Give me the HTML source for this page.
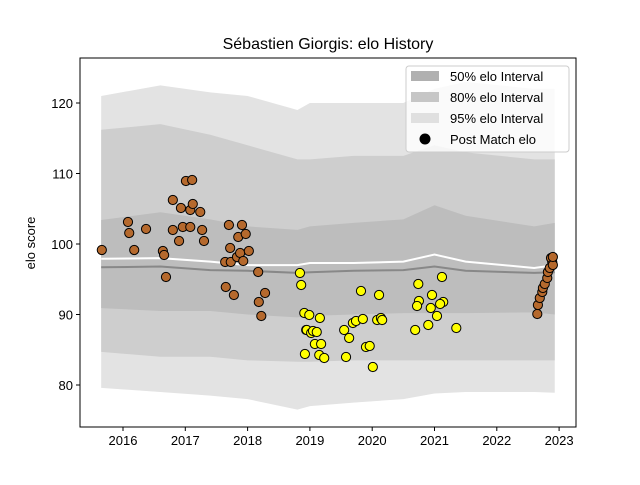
<!DOCTYPE html>
<html><head><meta charset="utf-8"><style>
body{margin:0;background:#fff;}
svg{font-family:"Liberation Sans","DejaVu Sans",sans-serif;}
</style></head><body>
<svg id="chart" width="640" height="480">
<text x="328" y="49" font-size="16" text-anchor="middle">Sébastien Giorgis: elo History</text>
<text transform="translate(35,243) rotate(-90)" font-size="13" text-anchor="middle">elo score</text>
<g id="plot"></g>
</svg>
<script>
const knotYears=[2015.65,2016.6,2017.4,2018.0,2018.8,2019.0,2019.7,2020.5,2021.0,2021.5,2022.6,2022.93];
const top95=[121,122.5,121.5,121,119,120,120,120,122,123,122,122];
const top80=[116.2,117,115.5,114,112,112,112.5,112.5,114,113,112,112];
const top50=[103.4,104.5,103.5,102.5,102,102.5,103,103.5,105.5,104,102.5,103];
const meanLine=[96.7,96.8,96.3,96.2,95.9,96,96.2,96.3,96.8,96.2,95.9,96];
const bot50=[90.9,90.5,90.5,90,89.6,89.8,90,90.2,90.2,90.2,90.3,90];
const bot80=[84.7,84,84,83.5,83.3,83.3,83.5,83.5,83.5,83.5,83.5,83.5];
const bot95=[79.6,79,78.5,78,76.5,77,77.5,78,78.8,79,79,78.9];
const whiteLine=[97.9,98,97.5,97,97,97.3,97.3,97.5,98.5,97.5,96.6,97];
const brownYears=[2015.66,2016.08,2016.10,2016.18,2016.37,2016.64,2016.66,2016.69,2016.80,2016.80,2016.90,2016.93,2016.96,2017.01,2017.08,2017.11,2017.08,2017.12,2017.24,2017.27,2017.30,2017.64,2017.65,2017.70,2017.72,2017.73,2017.78,2017.83,2017.85,2017.91,2017.88,2017.93,2017.97,2018.02,2018.17,2018.18,2018.22,2018.28,2022.65,2022.66,2022.69,2022.73,2022.74,2022.77,2022.81,2022.82,2022.85,2022.89,2022.87,2022.90,2022.90];
const brownElo=[99.15,103.12,101.56,99.15,102.13,99.01,98.44,95.32,106.24,101.99,100.43,105.11,102.41,108.94,102.41,109.08,104.82,105.67,104.54,101.99,100.43,97.45,93.90,102.70,99.43,97.45,92.77,98.16,100.99,102.70,98.72,97.59,101.42,99.01,96.03,91.77,89.79,93.05,90.07,91.35,92.34,93.19,93.76,94.33,95.18,96.03,96.60,97.45,98.01,97.02,98.16];
const yellowYears=[2018.84,2018.86,2018.91,2018.94,2018.92,2018.95,2018.99,2019.02,2019.05,2019.08,2019.11,2019.15,2019.18,2019.23,2019.16,2019.55,2019.58,2019.63,2019.69,2019.74,2019.82,2019.85,2019.90,2019.96,2020.01,2020.08,2020.11,2020.14,2020.16,2020.74,2021.12,2020.96,2020.75,2020.72,2020.94,2021.14,2021.09,2021.04,2020.90,2020.69,2021.35];
const yellowElo=[95.89,94.18,90.21,87.80,84.40,87.80,89.93,87.38,87.66,85.82,87.52,84.26,85.82,83.83,89.50,87.80,83.97,86.67,88.79,89.08,93.33,89.36,85.39,85.53,82.55,89.22,92.77,89.50,89.22,94.33,95.32,92.77,91.91,91.21,90.92,91.77,91.49,89.79,88.51,87.80,88.09];
const xTicks=[2016,2017,2018,2019,2020,2021,2022,2023];
const yTicks=[80,90,100,110,120];

const L=80,R=576,T=58,B=427;
const xs=y=>123+(y-2016)*62.3;
const ys=v=>385-(v-80)*7.05;
const NS='http://www.w3.org/2000/svg';
const g=document.getElementById('plot');
function mk(tag,attrs,parent){const e=document.createElementNS(NS,tag);for(const k in attrs)e.setAttribute(k,attrs[k]);(parent||g).appendChild(e);return e;}
function band(up,lo,fill){let d='';knotYears.forEach((yr,i)=>{d+=(i?'L':'M')+xs(yr)+','+ys(up[i]);});for(let i=knotYears.length-1;i>=0;i--)d+='L'+xs(knotYears[i])+','+ys(lo[i]);return mk('path',{d:d+'Z',fill:fill});}
function line(vals,stroke,w){let d='';knotYears.forEach((yr,i)=>{d+=(i?'L':'M')+xs(yr)+','+ys(vals[i]);});return mk('path',{d:d,fill:'none',stroke:stroke,'stroke-width':w});}
let e;
e=band(top95,bot95,'#e3e3e3');


e=band(top80,bot80,'#cecece');


e=band(top50,bot50,'#bdbdbd');


e=line(meanLine,'#888','2');


e=line(whiteLine,'#fff','2');


brownYears.forEach((yr,i)=>{const c=mk('circle',{cx:xs(yr),cy:ys(brownElo[i]),r:4.6,fill:'#b5692d',stroke:'#000','stroke-width':1});

});
yellowYears.forEach((yr,i)=>{const c=mk('circle',{cx:xs(yr),cy:ys(yellowElo[i]),r:4.6,fill:'#ffff00',stroke:'#000','stroke-width':1});

});
e=mk('rect',{x:L,y:T,width:R-L,height:B-T,fill:'none',stroke:'#000','stroke-width':1});


xTicks.forEach(t=>{const x=xs(t);mk('line',{x1:x,x2:x,y1:B,y2:B+4,stroke:'#000'});const tx=mk('text',{x:x,y:B+18,'font-size':13,'text-anchor':'middle'});tx.textContent=t;

});
yTicks.forEach(t=>{const y=ys(t);mk('line',{x1:L-4,x2:L,y1:y,y2:y,stroke:'#000'});const tx=mk('text',{x:L-7,y:y+5,'font-size':13,'text-anchor':'end'});tx.textContent=t;

});
// legend
const lg=mk('g',{});


mk('rect',{x:406,y:66,width:163,height:86,rx:3,fill:'#fff','fill-opacity':0.8,stroke:'#ccc'},lg);
const items=[['50% elo Interval','#b0b0b0'],['80% elo Interval','#c6c6c6'],['95% elo Interval','#e0e0e0'],['Post Match elo',null]];
items.forEach((it,i)=>{const y=76+i*21;
if(it[1]){mk('rect',{x:411,y:y-5,width:28,height:10,fill:it[1]},lg);}else{mk('circle',{cx:425,cy:y,r:5.5,fill:'#000'},lg);}
const t=mk('text',{x:450,y:y+5,'font-size':13},lg);t.textContent=it[0];

});
</script>
</body></html>
